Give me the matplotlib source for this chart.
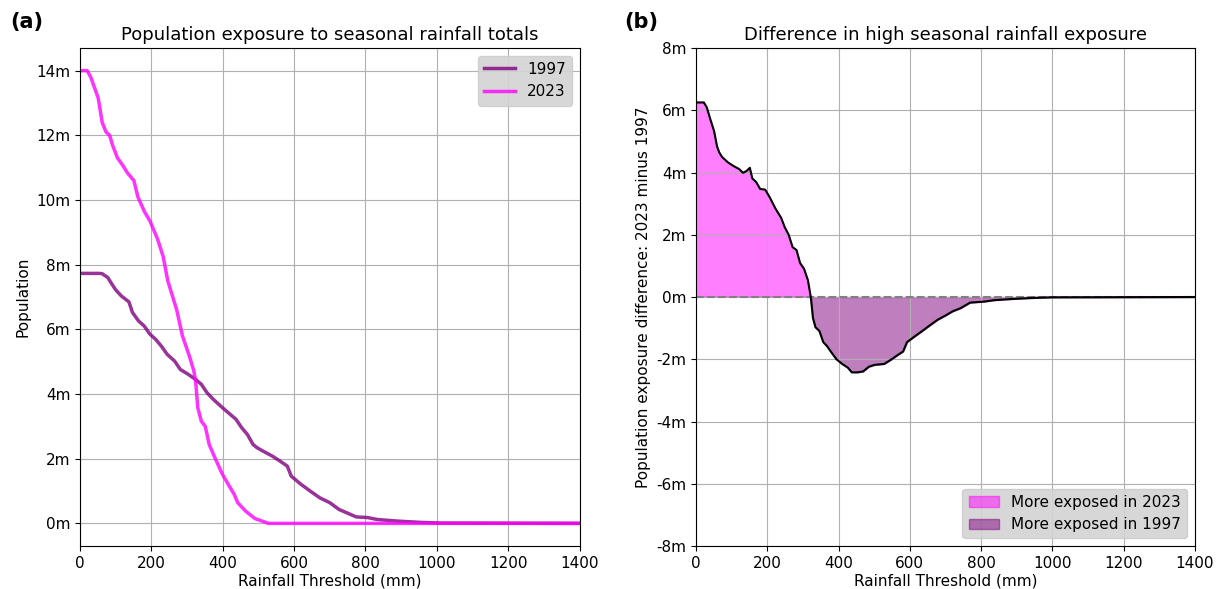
import matplotlib.pyplot as plt
import numpy as np
from matplotlib.ticker import FuncFormatter

# exceedance curves (population in millions above each rainfall threshold, mm)
x_2023 = [0, 20, 30, 51, 62, 73, 83, 91, 105, 121, 132, 151, 162, 180, 196, 217, 233, 246,
          271, 287, 308, 319, 324, 330, 340, 351, 362, 378, 399, 421, 432, 442, 464, 490, 528, 1400]
pop_2023 = [14.0, 14.0, 13.8, 13.15, 12.4, 12.1, 12.0, 11.7, 11.3, 11.05, 10.85, 10.6, 10.1, 9.65,
            9.35, 8.8, 8.25, 7.5, 6.6, 5.8, 5.12, 4.71, 4.4, 3.58, 3.16, 3.0, 2.44, 2.03, 1.52,
            1.1, 0.9, 0.64, 0.38, 0.15, 0.0, 0.0]

x_1997 = [0, 55, 62, 78, 84, 100, 116, 137, 147, 164, 180, 196, 212, 228, 244, 265, 281, 303,
          324, 340, 356, 373, 399, 421, 437, 453, 469, 485, 496, 512, 539, 560, 581, 592, 619,
          645, 672, 700, 726, 747, 774, 806, 833, 891, 955, 1009, 1400]
pop_1997 = [7.73, 7.73, 7.72, 7.6, 7.49, 7.22, 7.03, 6.85, 6.52, 6.26, 6.1, 5.85, 5.69, 5.48,
            5.23, 5.02, 4.76, 4.61, 4.45, 4.3, 4.04, 3.84, 3.58, 3.37, 3.22, 2.96, 2.75, 2.44,
            2.34, 2.24, 2.08, 1.93, 1.77, 1.46, 1.21, 1.0, 0.79, 0.64, 0.43, 0.33, 0.2, 0.18,
            0.12, 0.07, 0.03, 0.01, 0.0]

# difference 2023 minus 1997 (millions)
x_diff = [0, 22, 30, 41, 51, 59, 65, 73, 89, 105, 121, 132, 142, 151, 158, 169, 180, 194, 207,
          223, 239, 249, 260, 271, 282, 292, 303, 314, 322, 328, 335, 346, 357, 367, 378, 394,
          410, 426, 437, 453, 469, 485, 501, 528, 549, 565, 581, 592, 613, 635, 656, 678, 699,
          720, 742, 769, 806, 838, 892, 945, 999, 1400]
diff = [6.25, 6.25, 6.1, 5.68, 5.32, 4.84, 4.65, 4.5, 4.33, 4.21, 4.11, 3.99, 4.05, 4.15, 3.81,
        3.69, 3.47, 3.45, 3.2, 2.84, 2.54, 2.24, 2.0, 1.6, 1.51, 1.09, 0.91, 0.54, 0.0, -0.67,
        -0.97, -1.09, -1.45, -1.57, -1.75, -2.0, -2.15, -2.27, -2.42, -2.42, -2.39, -2.24,
        -2.18, -2.15, -2.0, -1.87, -1.75, -1.45, -1.27, -1.09, -0.91, -0.73, -0.6, -0.46,
        -0.36, -0.18, -0.15, -0.1, -0.06, -0.03, -0.01, 0.0]

plt.rcParams['font.size'] = 11
fmt = FuncFormatter(lambda v, p: f'{v:.0f}m')

fig = plt.figure(figsize=(12.2, 5.89), dpi=100)
ax1 = fig.add_axes([0.0656, 0.073, 0.4094, 0.8455])
ax2 = fig.add_axes([0.5705, 0.073, 0.409, 0.8455])

ax1.plot(x_1997, pop_1997, color='purple', alpha=0.8, lw=2.5, label='1997')
ax1.plot(x_2023, pop_2023, color='magenta', alpha=0.8, lw=2.5, label='2023')
ax1.set_xlim(0, 1400)
ax1.set_yticks(np.arange(0, 15, 2))
ax1.yaxis.set_major_formatter(fmt)
ax1.set_xlabel('Rainfall Threshold (mm)', labelpad=2)
ax1.set_ylabel('Population')
ax1.set_title('Population exposure to seasonal rainfall totals', fontsize=13)
ax1.grid(True)
ax1.legend(loc='upper right', facecolor='lightgray', framealpha=0.9)

xd = np.array(x_diff)
dd = np.array(diff)
ax2.fill_between(xd, dd, 0, where=dd >= 0, interpolate=True, color='magenta', alpha=0.5,
                 label='More exposed in 2023')
ax2.fill_between(xd, dd, 0, where=dd <= 0, interpolate=True, color='purple', alpha=0.5,
                 label='More exposed in 1997')
ax2.axhline(0, color='gray', ls='--', lw=1.5)
ax2.plot(xd, dd, color='black', lw=1.5)
ax2.set_xlim(0, 1400)
ax2.set_ylim(-8, 8)
ax2.set_yticks(np.arange(-8, 9, 2))
ax2.yaxis.set_major_formatter(fmt)
ax2.set_xlabel('Rainfall Threshold (mm)', labelpad=2)
ax2.set_ylabel('Population exposure difference: 2023 minus 1997')
ax2.set_title('Difference in high seasonal rainfall exposure', fontsize=13)
ax2.grid(True)
ax2.legend(loc='lower right', facecolor='lightgray', framealpha=0.9)

fig.text(0.008, 0.962, '(a)', fontsize=15, fontweight='bold', va='center')
fig.text(0.512, 0.962, '(b)', fontsize=15, fontweight='bold', va='center')

plt.savefig('out.png', dpi=100)
